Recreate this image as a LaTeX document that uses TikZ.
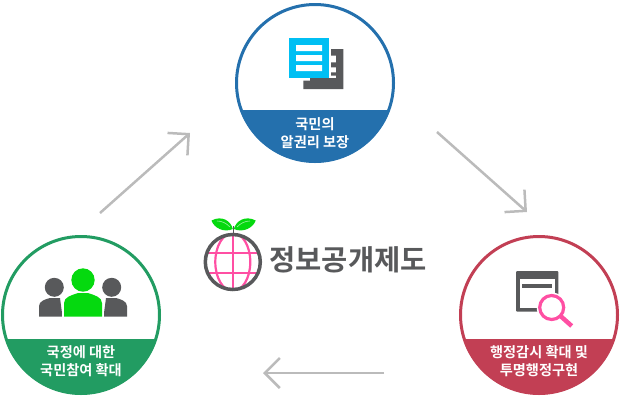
\documentclass[tikz,border=0pt]{standalone}
\usepackage{fontspec}
\setmainfont{Noto Sans CJK KR}[BoldFont={Noto Sans CJK KR Bold}]
\usetikzlibrary{arrows.meta}
\definecolor{cblue}{HTML}{2470AD}
\definecolor{cgreen}{HTML}{229C62}
\definecolor{cred}{HTML}{C23F54}
\definecolor{cdark}{HTML}{58595B}
\definecolor{ccyan}{HTML}{00BFF3}
\definecolor{cleaf}{HTML}{05D90F}
\definecolor{cpink}{HTML}{FF4FA3}
\definecolor{carrow}{HTML}{BBBBBB}
\tikzset{
  ring/.style={circle,draw=#1,line width=3pt,minimum size=157pt,inner sep=0pt,outer sep=0pt},
  bandlabel/.style={text=white,font=\fontsize{14.2}{18}\selectfont\bfseries,align=center,inner sep=0pt},
  flowarrow/.style={draw=carrow,line width=2.5pt,-{Straight Barb[length=15pt,width=30pt,line width=2.5pt]}},
  iconfill/.style={fill=cdark,draw=none},
}
\begin{document}
\begin{tikzpicture}[x=1pt,y=-1pt]
\useasboundingbox (0,0) rectangle (620,400);
% bands
\begin{scope}
\clip (315,83) circle (79.5);
\fill[cblue] (230,110) rectangle (400,170);
\end{scope}
\begin{scope}
\clip (81,315) circle (79.5);
\fill[cgreen] (0,339) rectangle (170,400);
\end{scope}
\begin{scope}
\clip (539,315) circle (79.5);
\fill[cred] (455,339) rectangle (620,400);
\end{scope}
% rings
\node[ring=cblue] (ctop) at (315,83) {};
\node[ring=cgreen] (cleft) at (81,315) {};
\node[ring=cred] (cright) at (539,315) {};
% labels
\node[bandlabel] (ltop) at (315,133) {국민의\\알권리 보장};
\node[bandlabel] (lleft) at (81,361) {국정에 대한\\국민참여 확대};
\node[bandlabel] (lright) at (539,361) {행정감시 확대 및\\투명행정구현};
% document icon
\fill[iconfill] (331,49) -- (343.3,49) -- (343.3,89) -- (303.3,89) -- (303.3,80.7) -- (310,80.7) -- (310,78) -- (336,78) -- (336,75.7) -- (331,75.7) -- (331,72.3) -- (336,72.3) -- (336,67.3) -- (331,67.3) -- (331,62.3) -- (336,62.3) -- (336,55.7) -- (331,55.7) -- cycle;
\fill[ccyan] (289,38) rectangle (329,78);
\fill[white] (296,45) rectangle (322,51) (296,55) rectangle (322,61) (296,65) rectangle (322,71);
% people icon
\fill[iconfill] (54.3,287.3) circle (9.5);
\fill[iconfill] (111.7,287.3) circle (9.5);
\fill[iconfill] (39,316.7) -- (39,306) .. controls (39,301) and (46,299) .. (50,298) -- (60,298) -- (62.5,316.7) -- cycle;
\fill[iconfill] (127,316.7) -- (127,306) .. controls (127,301) and (120,299) .. (116,298) -- (106,298) -- (103.5,316.7) -- cycle;
\fill[white] (62,293) rectangle (104,317);
\fill[cleaf] (83,280) circle (11.7);
\fill[cleaf] (64,316.7) -- (64,303) .. controls (64,297) and (72,295) .. (78,293) -- (88,293) .. controls (94,295) and (102,297) .. (102,303) -- (102,316.7) -- cycle;
% search icon
\fill[iconfill,rounded corners=1pt] (516,271) rectangle (558.3,311.7);
\fill[white] (520,279) rectangle (555,308);
\fill[cdark] (522,284.3) rectangle (552,288.3);
\fill[white] (551.7,307.5) circle (15);
\draw[cpink,line width=3.2pt] (551.7,307.5) circle (12);
\draw[cpink,line width=4.5pt] (560.5,316) -- (571.7,326);
% globe
\begin{scope}
\clip (232.8,262) circle (27.5);
\draw[cpink,line width=2.2pt] (204,253) -- (262,253) (204,273) -- (262,273) (232.8,232) -- (232.8,292);
\draw[cpink,line width=2.2pt] (232.8,262) ellipse (17.5 and 29);
\end{scope}
\draw[cdark,line width=3.5pt] (232.8,262) circle (27.5);
\draw[cdark,line width=1.5pt] (233.3,234) -- (233.3,226);
\fill[cleaf] (232.8,229) .. controls (231,221) and (222,215) .. (211.5,220.5) .. controls (214,228) and (224,233) .. (232.8,229) -- cycle;
\fill[cleaf] (233.8,229) .. controls (236,221) and (245,215) .. (255.7,220.5) .. controls (253,228) and (243,233) .. (233.8,229) -- cycle;
\draw[white,opacity=.6,line width=.6pt] (217,221) .. controls (222,221) and (226,223) .. (230,227) (250,221) .. controls (245,221) and (241,223) .. (237,227);
\node[text=cdark,font=\fontsize{28.5}{28.5}\selectfont\bfseries,inner sep=0pt] (title) at (348,260) {정보공개제도};
% arrows
\coordinate (a1s) at (100,213);
\coordinate (a1e) at (190,133);
\coordinate (a2s) at (437,132);
\coordinate (a2e) at (527,212);
\coordinate (a3s) at (384,373);
\coordinate (a3e) at (263,373);
\draw[flowarrow] (a1s) -- (a1e);
\draw[flowarrow] (a2s) -- (a2e);
\draw[flowarrow] (a3s) -- (a3e);
\end{tikzpicture}
\end{document}
